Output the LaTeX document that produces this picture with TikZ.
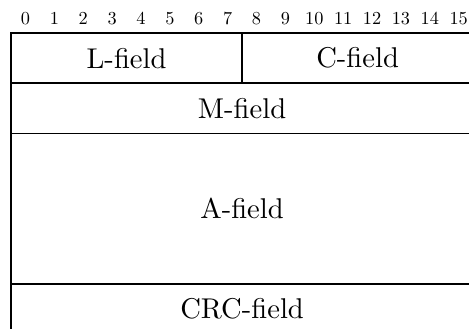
\documentclass[tikz,border=0pt]{standalone}
\begin{document}
\begin{tikzpicture}[
  x=1pt, y=1pt,
  fieldbox/.style={draw, line width=0.6pt, inner sep=0pt, outer sep=0pt,
    anchor=north west, font=\normalsize},
  bitnum/.style={inner sep=0pt, font=\normalsize},
]
% frame of the picture (the word runs past the right and lower edges)
\useasboundingbox (0,0) rectangle (164,-115.03);
\clip (0,0) rectangle (164,-115.03);
\def\bw{10.1}
\def\rh{17.55}
\def\xo{3.85}
\def\yo{-11.54}
% bit numbers, set in the text face at reduced size
\foreach \i in {0,...,15}
  \node[bitnum] (b\i) at ({\xo+(\i+0.5)*\bw}, -6.36) {\scalebox{0.64}{\i}};
% fields
\node[fieldbox, minimum width=8*\bw pt, minimum height=\rh pt] (L) at (\xo, \yo) {L-field};
\node[fieldbox, minimum width=8*\bw pt, minimum height=\rh pt] (C) at (\xo+8*\bw, \yo) {C-field};
\node[fieldbox, minimum width=16*\bw pt, minimum height=\rh pt] (M) at (\xo, \yo-\rh) {M-field};
\node[fieldbox, minimum width=16*\bw pt, minimum height=3*\rh pt] (A) at (\xo, \yo-2*\rh) {A-field};
\node[fieldbox, minimum width=16*\bw pt, minimum height=\rh pt] (CRC) at (\xo, \yo-5*\rh) {CRC-field};
\end{tikzpicture}
\end{document}
